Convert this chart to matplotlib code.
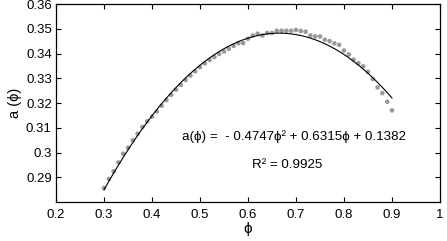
import numpy as np
import matplotlib
matplotlib.use("Agg")
import matplotlib.pyplot as plt
from matplotlib.ticker import FuncFormatter

plt.rcParams['font.family'] = ['Liberation Sans', 'DejaVu Sans']

# measured points a(phi), phi from 0.30 to 0.90 step 0.01
phi = [0.30, 0.31, 0.32, 0.33, 0.34, 0.35, 0.36, 0.37, 0.38, 0.39,
       0.40, 0.41, 0.42, 0.43, 0.44, 0.45, 0.46, 0.47, 0.48, 0.49,
       0.50, 0.51, 0.52, 0.53, 0.54, 0.55, 0.56, 0.57, 0.58, 0.59,
       0.60, 0.61, 0.62, 0.63, 0.64, 0.65, 0.66, 0.67, 0.68, 0.69,
       0.70, 0.71, 0.72, 0.73, 0.74, 0.75, 0.76, 0.77, 0.78, 0.79,
       0.80, 0.81, 0.82, 0.83, 0.84, 0.85, 0.86, 0.87, 0.88, 0.89,
       0.90]
a_meas = [0.2857, 0.2893, 0.2924, 0.2960, 0.2995, 0.3019, 0.3049, 0.3076, 0.3103, 0.3126,
          0.3145, 0.3166, 0.3189, 0.3212, 0.3233, 0.3254, 0.3273, 0.3293, 0.3311, 0.3328,
          0.3345, 0.3360, 0.3374, 0.3386, 0.3398, 0.3408, 0.3419, 0.3431, 0.3442, 0.3442,
          0.3460, 0.3473, 0.3480, 0.3473, 0.3483, 0.3483, 0.3492, 0.3492, 0.3492, 0.3492,
          0.3495, 0.3491, 0.3488, 0.3473, 0.3469, 0.3469, 0.3456, 0.3450, 0.3441, 0.3435,
          0.3412, 0.3396, 0.3375, 0.3361, 0.3348, 0.3326, 0.3297, 0.3263, 0.3240, 0.3205,
          0.3170]

# quadratic fit coefficients as printed on the chart
fit_coef = [-0.4747, 0.6315, 0.1382]
r2 = 0.9925

fig = plt.figure(figsize=(4.47, 2.41), dpi=100)
ax = fig.add_axes([0.1253, 0.1618, 0.859, 0.8216])

ax.scatter(phi, a_meas, s=11, color="#9a9a9a", edgecolors="none", zorder=2)
xf = np.linspace(min(phi), max(phi), 200)
ax.plot(xf, np.polyval(fit_coef, xf), color="black", lw=0.8, zorder=3)

ax.set_xlim(0.2, 1.0)
ax.set_ylim(0.28, 0.36)
ax.set_xticks(np.arange(0.2, 1.01, 0.1))
ax.set_yticks(np.arange(0.29, 0.3601, 0.01))
ax.xaxis.set_major_formatter(FuncFormatter(lambda v, p: f"{round(v, 1):g}"))
ax.yaxis.set_major_formatter(FuncFormatter(lambda v, p: f"{round(v, 2):g}"))
ax.tick_params(direction="in", top=True, right=True, length=3.5, width=0.8, labelsize=9.5)
ax.tick_params(axis="y", pad=3)
ax.tick_params(axis="x", pad=5)
for s in ax.spines.values():
    s.set_linewidth(0.9)

ax.set_xlabel("ϕ", fontsize=11, labelpad=1)
ax.set_ylabel("a (ϕ)", fontsize=10.5, labelpad=3)

ax.text(0.4625, 0.3064,
        "a(ϕ) =  - %.4fϕ² + %.4fϕ + %.4f" % (-fit_coef[0], fit_coef[1], fit_coef[2]),
        fontsize=9.6, va="center", ha="left")
ax.text(0.681, 0.2951, "R² = %.4f" % r2, fontsize=9.6, va="center", ha="center")

fig.savefig("out.png", dpi=100)
